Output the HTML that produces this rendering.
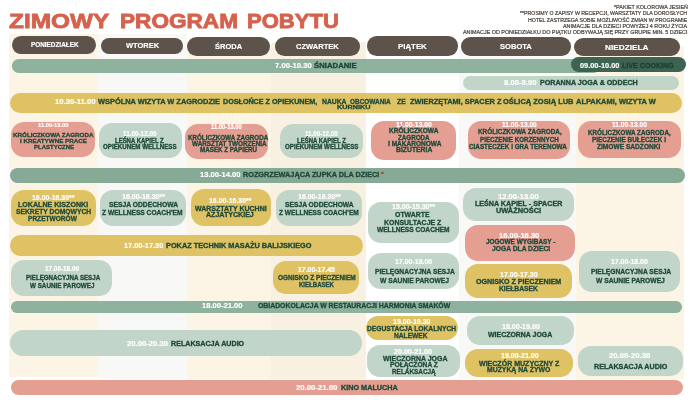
<!DOCTYPE html>
<html><head><meta charset="utf-8"><title>Zimowy program pobytu</title>
<style>
html,body{margin:0;padding:0;background:#fff}
body{width:690px;height:400px;position:relative;overflow:hidden;font-family:"Liberation Sans",sans-serif}
.r{position:absolute}
#tx{position:absolute;left:0;top:0;width:690px;height:400px;will-change:transform}
.t{position:absolute;white-space:pre;line-height:1;transform-origin:0 0;font-weight:700;-webkit-text-stroke:0.33px}
</style></head><body>
<div class="r" style="left:9px;top:34px;width:89.00px;height:342.80px;background:#fcf5e5;border-radius:0px"></div>
<div class="r" style="left:98px;top:34px;width:88.50px;height:345.00px;background:#f8f8f6;border-radius:0px"></div>
<div class="r" style="left:186.5px;top:45px;width:85.00px;height:334.00px;background:#fcf5e5;border-radius:0px"></div>
<div class="r" style="left:271.5px;top:42px;width:94.50px;height:337.00px;background:#f8f0e0;border-radius:0px"></div>
<div class="r" style="left:270.9px;top:45px;width:0.90px;height:334.00px;background:#fbeed5;border-radius:0px"></div>
<div class="r" style="left:459px;top:46px;width:117.00px;height:332.50px;background:#f8f8f6;border-radius:0px"></div>
<div class="r" style="left:576px;top:46px;width:107.50px;height:332.50px;background:#fcf5e5;border-radius:0px"></div>
<div class="r" style="left:11.7px;top:36.3px;width:84.60px;height:17.80px;background:#5e534b;border-radius:8.900000000000002px"></div>
<div class="r" style="left:101px;top:37.5px;width:82.00px;height:16.50px;background:#5e534b;border-radius:8.25px"></div>
<div class="r" style="left:187px;top:37.2px;width:82.50px;height:19.00px;background:#5e534b;border-radius:9.5px"></div>
<div class="r" style="left:275px;top:37.3px;width:84.50px;height:18.70px;background:#5e534b;border-radius:9.350000000000001px"></div>
<div class="r" style="left:366.5px;top:36px;width:91.50px;height:19.50px;background:#5e534b;border-radius:9.75px"></div>
<div class="r" style="left:461px;top:37px;width:109.50px;height:18.50px;background:#5e534b;border-radius:9.25px"></div>
<div class="r" style="left:574px;top:37.5px;width:106.00px;height:18.00px;background:#5e534b;border-radius:9.0px"></div>
<div class="r" style="left:12px;top:59.4px;width:588.00px;height:13.20px;background:#8eb29e;border-radius:6.6px"></div>
<div class="r" style="left:570.5px;top:56.8px;width:115.50px;height:15.60px;background:#3e6353;border-radius:7.8px"></div>
<div class="r" style="left:462.7px;top:75.6px;width:216.30px;height:14.40px;background:#c2d5c9;border-radius:7.2px"></div>
<div class="r" style="left:10px;top:93px;width:672.00px;height:19.80px;background:#dfc264;border-radius:9.9px"></div>
<div class="r" style="left:10.8px;top:121.5px;width:84.20px;height:35.30px;background:#e59e92;border-radius:13px"></div>
<div class="r" style="left:98.5px;top:122.9px;width:83.20px;height:35.10px;background:#c2d5c9;border-radius:13px"></div>
<div class="r" style="left:185.2px;top:123.7px;width:83.10px;height:35.00px;background:#e59e92;border-radius:13px"></div>
<div class="r" style="left:280px;top:123.6px;width:83.00px;height:34.70px;background:#c2d5c9;border-radius:13px"></div>
<div class="r" style="left:371px;top:121px;width:85.00px;height:38.50px;background:#e59e92;border-radius:13px"></div>
<div class="r" style="left:467.5px;top:120.8px;width:102.50px;height:38.00px;background:#e59e92;border-radius:13px"></div>
<div class="r" style="left:578.3px;top:120.8px;width:103.20px;height:36.80px;background:#e59e92;border-radius:13px"></div>
<div class="r" style="left:10px;top:168.1px;width:674.75px;height:14.90px;background:#87aa96;border-radius:7.45px"></div>
<div class="r" style="left:10.5px;top:190px;width:85.50px;height:36.00px;background:#dfc264;border-radius:13px"></div>
<div class="r" style="left:100px;top:190px;width:85.50px;height:35.90px;background:#c2d5c9;border-radius:13px"></div>
<div class="r" style="left:190.5px;top:188.7px;width:80.90px;height:36.90px;background:#dfc264;border-radius:13px"></div>
<div class="r" style="left:276.2px;top:190px;width:86.30px;height:35.90px;background:#c2d5c9;border-radius:13px"></div>
<div class="r" style="left:10px;top:234.7px;width:353.30px;height:21.00px;background:#dfc264;border-radius:10.5px"></div>
<div class="r" style="left:367.6px;top:202px;width:91.40px;height:40.80px;background:#c2d5c9;border-radius:13px"></div>
<div class="r" style="left:367.75px;top:253px;width:91.25px;height:36.00px;background:#c2d5c9;border-radius:13px"></div>
<div class="r" style="left:463.3px;top:187.6px;width:110.70px;height:33.15px;background:#c2d5c9;border-radius:13px"></div>
<div class="r" style="left:465px;top:225px;width:109.50px;height:35.50px;background:#e59e92;border-radius:13px"></div>
<div class="r" style="left:465px;top:264.2px;width:106.50px;height:33.70px;background:#dfc264;border-radius:13px"></div>
<div class="r" style="left:578.7px;top:250.5px;width:101.60px;height:41.00px;background:#c2d5c9;border-radius:13px"></div>
<div class="r" style="left:11px;top:259.8px;width:100.70px;height:35.95px;background:#c2d5c9;border-radius:13px"></div>
<div class="r" style="left:272.7px;top:260.6px;width:86.80px;height:33.15px;background:#dfc264;border-radius:13px"></div>
<div class="r" style="left:11.25px;top:301.1px;width:670.75px;height:11.65px;background:#8eb29e;border-radius:5.8px"></div>
<div class="r" style="left:9.5px;top:330px;width:352.50px;height:26.25px;background:#c2d5c9;border-radius:13px"></div>
<div class="r" style="left:365.7px;top:316.25px;width:92.05px;height:24.05px;background:#dfc264;border-radius:12px"></div>
<div class="r" style="left:366.5px;top:345px;width:93.50px;height:32.10px;background:#c2d5c9;border-radius:13px"></div>
<div class="r" style="left:466.5px;top:315.75px;width:107.50px;height:28.75px;background:#c2d5c9;border-radius:13px"></div>
<div class="r" style="left:465px;top:348.5px;width:107.70px;height:28.20px;background:#dfc264;border-radius:13px"></div>
<div class="r" style="left:577.8px;top:345.8px;width:105.20px;height:30.70px;background:#c2d5c9;border-radius:13px"></div>
<div class="r" style="left:11.25px;top:379.8px;width:671.75px;height:15.20px;background:#e59e92;border-radius:7.6px"></div>
<div id="tx">
<div class="t" style="left:9.30px;top:10.94px;font-size:20.64px;color:#d6614c;transform:scaleX(1.1830);-webkit-text-stroke:0.8px">ZIMOWY</div>
<div class="t" style="left:120.00px;top:10.94px;font-size:20.64px;color:#d6614c;transform:scaleX(1.0954);-webkit-text-stroke:0.8px">PROGRAM</div>
<div class="t" style="left:246.60px;top:10.94px;font-size:20.64px;color:#d6614c;transform:scaleX(1.0692);-webkit-text-stroke:0.8px">POBYTU</div>
<div class="t" style="left:613.50px;top:5.20px;font-size:5.09px;color:#4a413b;transform:scaleX(1.0616);font-weight:400;-webkit-text-stroke:0.2px">*PAKIET KOLOROWA JESIEŃ</div>
<div class="t" style="left:519.70px;top:11.40px;font-size:5.09px;color:#4a413b;transform:scaleX(1.0286);font-weight:400;-webkit-text-stroke:0.2px">**PROSIMY O ZAPISY W RECEPCJI, WARSZTATY DLA DOROSŁYCH</div>
<div class="t" style="left:528.10px;top:17.60px;font-size:5.09px;color:#4a413b;transform:scaleX(1.0353);font-weight:400;-webkit-text-stroke:0.2px">HOTEL ZASTRZEGA SOBIE MOŻLIWOŚĆ ZMIAN W PROGRAMIE</div>
<div class="t" style="left:563.20px;top:23.80px;font-size:5.09px;color:#4a413b;transform:scaleX(1.0580);font-weight:400;-webkit-text-stroke:0.2px">ANIMACJE DLA DZIECI POWYŻEJ 4 ROKU ŻYCIA</div>
<div class="t" style="left:463.00px;top:30.00px;font-size:5.09px;color:#4a413b;transform:scaleX(1.0604);font-weight:400;-webkit-text-stroke:0.2px">ANIMACJE OD PONIEDZIAŁKU DO PIĄTKU ODBYWAJĄ SIĘ PRZY GRUPIE MIN. 5 DZIECI</div>
<div class="t" style="left:30.50px;top:42.47px;font-size:6.54px;color:#ffffff;transform:scaleX(0.9769);-webkit-text-stroke:0.15px">PONIEDZIAŁEK</div>
<div class="t" style="left:125.75px;top:42.01px;font-size:7.85px;color:#ffffff;transform:scaleX(0.9522);-webkit-text-stroke:0.15px">WTOREK</div>
<div class="t" style="left:214.50px;top:42.96px;font-size:7.85px;color:#ffffff;transform:scaleX(0.9547);-webkit-text-stroke:0.15px">ŚRODA</div>
<div class="t" style="left:296.00px;top:43.06px;font-size:7.85px;color:#ffffff;transform:scaleX(0.9637);-webkit-text-stroke:0.15px">CZWARTEK</div>
<div class="t" style="left:397.75px;top:42.51px;font-size:7.85px;color:#ffffff;transform:scaleX(1.0011);-webkit-text-stroke:0.15px">PIĄTEK</div>
<div class="t" style="left:499.75px;top:42.76px;font-size:7.85px;color:#ffffff;transform:scaleX(0.9649);-webkit-text-stroke:0.15px">SOBOTA</div>
<div class="t" style="left:605.00px;top:44.01px;font-size:7.56px;color:#ffffff;transform:scaleX(1.0918);-webkit-text-stroke:0.15px">NIEDZIELA</div>
<div class="t" style="left:275.00px;top:62.97px;font-size:6.54px;color:#ffffff;transform:scaleX(1.1750);-webkit-text-stroke:0.15px">7.00-10.30</div>
<div class="t" style="left:314.00px;top:62.97px;font-size:6.54px;color:#1f4a3a;transform:scaleX(1.1882)">ŚNIADANIE</div>
<div class="t" style="left:580.30px;top:62.20px;font-size:6.98px;color:#ffffff;transform:scaleX(1.0591);-webkit-text-stroke:0.15px">09.00-10.00</div>
<div class="t" style="left:622.30px;top:62.20px;font-size:6.98px;color:#1d4133;transform:scaleX(1.0190)">LIVE COOKING</div>
<div class="t" style="left:504.00px;top:79.54px;font-size:6.69px;color:#ffffff;transform:scaleX(1.1524);-webkit-text-stroke:0.15px">8.00-9.00</div>
<div class="t" style="left:540.00px;top:79.54px;font-size:6.69px;color:#1f4a3a;transform:scaleX(1.0663)">PORANNA JOGA &amp; ODDECH</div>
<div class="t" style="left:54.50px;top:98.30px;font-size:6.98px;color:#ffffff;transform:scaleX(1.0997);-webkit-text-stroke:0.15px">10.30-11.00</div>
<div class="t" style="left:98.00px;top:98.30px;font-size:6.98px;color:#1f4a3a;transform:scaleX(1.0635)">WSPÓLNA WIZYTA W ZAGRODZIE</div>
<div class="t" style="left:223.25px;top:98.30px;font-size:6.98px;color:#1f4a3a;transform:scaleX(1.0271)">DOSŁOŃCE Z OPIEKUNEM,</div>
<div class="t" style="left:321.50px;top:98.30px;font-size:6.98px;color:#1f4a3a;transform:scaleX(0.9733)">NAUKA</div>
<div class="t" style="left:349.80px;top:98.30px;font-size:6.98px;color:#1f4a3a;transform:scaleX(0.9221)">OBCOWANIA</div>
<div class="t" style="left:397.30px;top:98.30px;font-size:6.98px;color:#1f4a3a;transform:scaleX(0.9768)">ZE</div>
<div class="t" style="left:409.50px;top:98.30px;font-size:6.98px;color:#1f4a3a;transform:scaleX(1.0582)">ZWIERZĘTAMI, SPACER Z</div>
<div class="t" style="left:502.50px;top:98.30px;font-size:6.98px;color:#1f4a3a;transform:scaleX(1.0710)">OŚLICĄ ZOSIĄ LUB</div>
<div class="t" style="left:576.00px;top:98.30px;font-size:6.98px;color:#1f4a3a;transform:scaleX(1.0687)">ALPAKAMI, WIZYTA W</div>
<div class="t" style="left:337.00px;top:105.08px;font-size:5.81px;color:#1f4a3a;transform:scaleX(1.2531)">KURNIKU</div>
<div class="t" style="left:37.50px;top:122.46px;font-size:6.25px;color:#ffffff;transform:scaleX(0.9234);-webkit-text-stroke:0.15px">11.00-13.00</div>
<div class="t" style="left:12.50px;top:132.16px;font-size:6.25px;color:#1f4a3a;transform:scaleX(1.0021)">KRÓLICZKOWA ZAGRODA</div>
<div class="t" style="left:20.00px;top:138.41px;font-size:6.25px;color:#1f4a3a;transform:scaleX(1.0014)">I KREATYWNE PRACE</div>
<div class="t" style="left:33.75px;top:144.36px;font-size:6.25px;color:#1f4a3a;transform:scaleX(0.9599)">PLASTYCZNE</div>
<div class="t" style="left:123.25px;top:130.87px;font-size:6.54px;color:#ffffff;transform:scaleX(0.9706);-webkit-text-stroke:0.15px">11.00-12.00</div>
<div class="t" style="left:115.00px;top:137.87px;font-size:6.54px;color:#1f4a3a;transform:scaleX(0.9139)">LEŚNA KĄPIEL Z</div>
<div class="t" style="left:103.00px;top:144.47px;font-size:6.54px;color:#1f4a3a;transform:scaleX(0.9465)">OPIEKUNEM WELLNESS</div>
<div class="t" style="left:211.25px;top:123.99px;font-size:6.40px;color:#ffffff;transform:scaleX(0.9128);-webkit-text-stroke:0.15px">11.00-13.00</div>
<div class="t" style="left:188.00px;top:134.99px;font-size:6.40px;color:#1f4a3a;transform:scaleX(0.9765)">KRÓLICZKOWA ZAGRODA</div>
<div class="t" style="left:191.50px;top:140.99px;font-size:6.40px;color:#1f4a3a;transform:scaleX(0.9954)">WARSZTAT TWORZENIA</div>
<div class="t" style="left:200.00px;top:147.39px;font-size:6.40px;color:#1f4a3a;transform:scaleX(0.9772)">MASEK Z PAPIERU</div>
<div class="t" style="left:305.00px;top:131.24px;font-size:6.69px;color:#ffffff;transform:scaleX(0.9220);-webkit-text-stroke:0.15px">11.00-12.00</div>
<div class="t" style="left:297.00px;top:138.39px;font-size:6.69px;color:#1f4a3a;transform:scaleX(0.8945)">LEŚNA KĄPIEL Z</div>
<div class="t" style="left:284.50px;top:144.44px;font-size:6.69px;color:#1f4a3a;transform:scaleX(0.9234)">OPIEKUNEM WELLNESS</div>
<div class="t" style="left:395.75px;top:122.39px;font-size:6.40px;color:#ffffff;transform:scaleX(1.0612);-webkit-text-stroke:0.15px">11.00-13.00</div>
<div class="t" style="left:389.00px;top:128.49px;font-size:6.40px;color:#1f4a3a;transform:scaleX(1.0224)">KRÓLICZKOWA</div>
<div class="t" style="left:398.25px;top:134.59px;font-size:6.40px;color:#1f4a3a;transform:scaleX(0.9772)">ZAGRODA</div>
<div class="t" style="left:387.75px;top:140.89px;font-size:6.40px;color:#1f4a3a;transform:scaleX(1.0228)">I MAKARONOWA</div>
<div class="t" style="left:395.75px;top:147.19px;font-size:6.40px;color:#1f4a3a;transform:scaleX(1.0662)">BIŻUTERIA</div>
<div class="t" style="left:501.50px;top:122.14px;font-size:6.69px;color:#ffffff;transform:scaleX(0.9844);-webkit-text-stroke:0.15px">11.00-13.00</div>
<div class="t" style="left:477.50px;top:129.44px;font-size:6.69px;color:#1f4a3a;transform:scaleX(0.9533)">KRÓLICZKOWA ZAGRODA,</div>
<div class="t" style="left:480.00px;top:136.84px;font-size:6.69px;color:#1f4a3a;transform:scaleX(0.9328)">PIECZENIE KORZENNYCH</div>
<div class="t" style="left:469.00px;top:143.74px;font-size:6.69px;color:#1f4a3a;transform:scaleX(0.9450)">CIASTECZEK I GRA TERENOWA</div>
<div class="t" style="left:611.75px;top:121.94px;font-size:6.69px;color:#ffffff;transform:scaleX(0.9858);-webkit-text-stroke:0.15px">11.00-13.00</div>
<div class="t" style="left:588.00px;top:129.54px;font-size:6.69px;color:#1f4a3a;transform:scaleX(0.9418)">KRÓLICZKOWA ZAGRODA,</div>
<div class="t" style="left:592.25px;top:136.74px;font-size:6.69px;color:#1f4a3a;transform:scaleX(0.9564)">PIECZENIE BUŁECZEK I</div>
<div class="t" style="left:596.50px;top:143.74px;font-size:6.69px;color:#1f4a3a;transform:scaleX(0.9864)">ZIMOWE SADZONKI</div>
<div class="t" style="left:199.50px;top:172.24px;font-size:6.69px;color:#ffffff;transform:scaleX(1.1368);-webkit-text-stroke:0.15px">13.00-14.00</div>
<div class="t" style="left:243.25px;top:172.24px;font-size:6.69px;color:#1f4a3a;transform:scaleX(1.0891)">ROZGRZEWAJĄCA ZUPKA DLA DZIECI</div>
<div class="t" style="left:380.60px;top:172.18px;font-size:5.81px;color:#c0392b;transform:scaleX(1.1917)">*</div>
<div class="t" style="left:32.00px;top:194.57px;font-size:6.54px;color:#ffffff;transform:scaleX(1.0637);-webkit-text-stroke:0.15px">16.00-16.30**</div>
<div class="t" style="left:18.00px;top:201.25px;font-size:7.27px;color:#1f4a3a;transform:scaleX(0.9762)">LOKALNE KISZONKI</div>
<div class="t" style="left:16.25px;top:207.95px;font-size:7.27px;color:#1f4a3a;transform:scaleX(0.9277)">SEKRETY DOMOWYCH</div>
<div class="t" style="left:27.50px;top:214.85px;font-size:7.27px;color:#1f4a3a;transform:scaleX(0.9033)">PRZETWORÓW</div>
<div class="t" style="left:122.00px;top:194.27px;font-size:6.54px;color:#ffffff;transform:scaleX(1.0763);-webkit-text-stroke:0.15px">16.00-16.30**</div>
<div class="t" style="left:109.00px;top:201.15px;font-size:7.27px;color:#1f4a3a;transform:scaleX(0.9278)">SESJA ODDECHOWA</div>
<div class="t" style="left:102.40px;top:208.75px;font-size:7.27px;color:#1f4a3a;transform:scaleX(0.9133)">Z WELLNESS COACH'EM</div>
<div class="t" style="left:209.30px;top:198.17px;font-size:6.54px;color:#ffffff;transform:scaleX(1.0637);-webkit-text-stroke:0.15px">16.00-16.30**</div>
<div class="t" style="left:194.80px;top:204.85px;font-size:7.27px;color:#1f4a3a;transform:scaleX(0.9648)">WARSZTATY KUCHNI</div>
<div class="t" style="left:206.00px;top:211.15px;font-size:7.27px;color:#1f4a3a;transform:scaleX(0.9732)">AZJATYCKIEJ</div>
<div class="t" style="left:298.00px;top:194.27px;font-size:6.54px;color:#ffffff;transform:scaleX(1.0713);-webkit-text-stroke:0.15px">16.00-16.30**</div>
<div class="t" style="left:285.00px;top:201.15px;font-size:7.27px;color:#1f4a3a;transform:scaleX(0.9224)">SESJA ODDECHOWA</div>
<div class="t" style="left:278.60px;top:208.75px;font-size:7.27px;color:#1f4a3a;transform:scaleX(0.9053)">Z WELLNESS COACH'EM</div>
<div class="t" style="left:124.00px;top:242.82px;font-size:6.83px;color:#ffffff;transform:scaleX(1.0781);-webkit-text-stroke:0.15px">17.00-17.30</div>
<div class="t" style="left:166.00px;top:242.82px;font-size:6.83px;color:#1f4a3a;transform:scaleX(1.0743)">POKAZ TECHNIK MASAŻU BALIJSKIEGO</div>
<div class="t" style="left:391.50px;top:204.37px;font-size:6.54px;color:#ffffff;transform:scaleX(1.0763);-webkit-text-stroke:0.15px">15.00-15.30**</div>
<div class="t" style="left:395.00px;top:211.35px;font-size:7.27px;color:#1f4a3a;transform:scaleX(0.9517)">OTWARTE</div>
<div class="t" style="left:384.30px;top:218.85px;font-size:7.27px;color:#1f4a3a;transform:scaleX(0.9573)">KONSULTACJE Z</div>
<div class="t" style="left:376.80px;top:226.05px;font-size:7.27px;color:#1f4a3a;transform:scaleX(0.9078)">WELLNESS COACHEM</div>
<div class="t" style="left:395.00px;top:259.17px;font-size:6.54px;color:#ffffff;transform:scaleX(1.0667);-webkit-text-stroke:0.15px">17.00-18.00</div>
<div class="t" style="left:374.70px;top:267.65px;font-size:7.27px;color:#1f4a3a;transform:scaleX(0.9133)">PIELĘGNACYJNA SESJA</div>
<div class="t" style="left:380.00px;top:276.75px;font-size:7.27px;color:#1f4a3a;transform:scaleX(0.9262)">W SAUNIE PAROWEJ</div>
<div class="t" style="left:498.30px;top:194.44px;font-size:6.69px;color:#ffffff;transform:scaleX(1.1425);-webkit-text-stroke:0.15px">12.00-13.00</div>
<div class="t" style="left:475.00px;top:200.87px;font-size:7.12px;color:#1f4a3a;transform:scaleX(1.0015)">LEŚNA KĄPIEL - SPACER</div>
<div class="t" style="left:496.00px;top:207.67px;font-size:7.12px;color:#1f4a3a;transform:scaleX(1.0356)">UWAŻNOŚCI</div>
<div class="t" style="left:499.30px;top:232.54px;font-size:6.69px;color:#ffffff;transform:scaleX(1.1284);-webkit-text-stroke:0.15px">16.00-16.30</div>
<div class="t" style="left:485.70px;top:239.34px;font-size:6.69px;color:#1f4a3a;transform:scaleX(0.9602)">JOGOWE WYGIBASY -</div>
<div class="t" style="left:491.50px;top:246.44px;font-size:6.69px;color:#1f4a3a;transform:scaleX(1.0051)">JOGA DLA DZIECI</div>
<div class="t" style="left:500.00px;top:271.84px;font-size:6.69px;color:#ffffff;transform:scaleX(1.0526);-webkit-text-stroke:0.15px">17.00-17.30</div>
<div class="t" style="left:475.70px;top:278.30px;font-size:6.98px;color:#1f4a3a;transform:scaleX(1.0198)">OGNISKO Z PIECZENIEM</div>
<div class="t" style="left:499.30px;top:285.30px;font-size:6.98px;color:#1f4a3a;transform:scaleX(0.9682)">KIEŁBASEK</div>
<div class="t" style="left:611.30px;top:259.07px;font-size:6.54px;color:#ffffff;transform:scaleX(1.0552);-webkit-text-stroke:0.15px">17.00-18.00</div>
<div class="t" style="left:590.80px;top:267.75px;font-size:7.27px;color:#1f4a3a;transform:scaleX(0.9179)">PIELĘGNACYJNA SESJA</div>
<div class="t" style="left:595.90px;top:276.65px;font-size:7.27px;color:#1f4a3a;transform:scaleX(0.9235)">W SAUNIE PAROWEJ</div>
<div class="t" style="left:45.00px;top:265.97px;font-size:6.54px;color:#ffffff;transform:scaleX(0.9749);-webkit-text-stroke:0.15px">17.00-18.00</div>
<div class="t" style="left:25.80px;top:273.90px;font-size:6.98px;color:#1f4a3a;transform:scaleX(0.8844)">PIELĘGNACYJNA SESJA</div>
<div class="t" style="left:30.30px;top:281.90px;font-size:6.98px;color:#1f4a3a;transform:scaleX(0.9007)">W SAUNIE PAROWEJ</div>
<div class="t" style="left:297.50px;top:267.14px;font-size:6.69px;color:#ffffff;transform:scaleX(1.0330);-webkit-text-stroke:0.15px">17.00-17.45</div>
<div class="t" style="left:277.70px;top:274.10px;font-size:6.98px;color:#1f4a3a;transform:scaleX(0.9278)">OGNISKO Z PIECZENIEM</div>
<div class="t" style="left:299.00px;top:281.00px;font-size:6.98px;color:#1f4a3a;transform:scaleX(0.8689)">KIEŁBASEK</div>
<div class="t" style="left:201.50px;top:303.47px;font-size:6.54px;color:#ffffff;transform:scaleX(1.1613);-webkit-text-stroke:0.15px">18.00-21.00</div>
<div class="t" style="left:258.30px;top:303.34px;font-size:6.69px;color:#1f4a3a;transform:scaleX(1.0255)">OBIADOKOLACJA W RESTAURACJI HARMONIA SMAKÓW</div>
<div class="t" style="left:126.70px;top:341.24px;font-size:6.69px;color:#ffffff;transform:scaleX(1.1509);-webkit-text-stroke:0.15px">20.00-20.30</div>
<div class="t" style="left:171.00px;top:341.24px;font-size:6.69px;color:#1f4a3a;transform:scaleX(1.0664)">RELAKSACJA AUDIO</div>
<div class="t" style="left:393.00px;top:319.17px;font-size:6.54px;color:#ffffff;transform:scaleX(1.0753);-webkit-text-stroke:0.15px">19.00-19.30</div>
<div class="t" style="left:367.00px;top:325.05px;font-size:7.27px;color:#1f4a3a;transform:scaleX(0.9206)">DEGUSTACJA LOKALNYCH</div>
<div class="t" style="left:394.00px;top:331.75px;font-size:7.27px;color:#1f4a3a;transform:scaleX(0.9139)">NALEWEK</div>
<div class="t" style="left:394.00px;top:348.57px;font-size:6.54px;color:#ffffff;transform:scaleX(1.0896);-webkit-text-stroke:0.15px">20.00-21.00</div>
<div class="t" style="left:382.70px;top:354.55px;font-size:7.27px;color:#1f4a3a;transform:scaleX(0.9597)">WIECZORNA JOGA</div>
<div class="t" style="left:389.50px;top:361.35px;font-size:7.27px;color:#1f4a3a;transform:scaleX(0.9176)">POŁĄCZONA Z</div>
<div class="t" style="left:392.00px;top:367.75px;font-size:7.27px;color:#1f4a3a;transform:scaleX(0.8800)">RELAKSACJĄ</div>
<div class="t" style="left:501.50px;top:324.47px;font-size:6.54px;color:#ffffff;transform:scaleX(1.0867);-webkit-text-stroke:0.15px">18.00-19.00</div>
<div class="t" style="left:487.70px;top:330.65px;font-size:7.27px;color:#1f4a3a;transform:scaleX(0.9567)">WIECZORNA JOGA</div>
<div class="t" style="left:500.60px;top:353.37px;font-size:6.54px;color:#ffffff;transform:scaleX(1.0810);-webkit-text-stroke:0.15px">19.00-21.00</div>
<div class="t" style="left:479.10px;top:359.75px;font-size:7.27px;color:#1f4a3a;transform:scaleX(0.9681)">WIECZÓR MUZYCZNY Z</div>
<div class="t" style="left:486.90px;top:366.25px;font-size:7.27px;color:#1f4a3a;transform:scaleX(0.9418)">MUZYKĄ NA ŻYWO</div>
<div class="t" style="left:608.60px;top:353.24px;font-size:6.69px;color:#ffffff;transform:scaleX(1.1565);-webkit-text-stroke:0.15px">20.00-20.30</div>
<div class="t" style="left:593.80px;top:362.65px;font-size:7.27px;color:#1f4a3a;transform:scaleX(0.9840)">RELAKSACJA AUDIO</div>
<div class="t" style="left:296.00px;top:385.14px;font-size:6.69px;color:#ffffff;transform:scaleX(1.1593);-webkit-text-stroke:0.15px">20.00-21.00</div>
<div class="t" style="left:340.70px;top:385.14px;font-size:6.69px;color:#1f4a3a;transform:scaleX(1.0829)">KINO MALUCHA</div>
</div>
</body></html>
